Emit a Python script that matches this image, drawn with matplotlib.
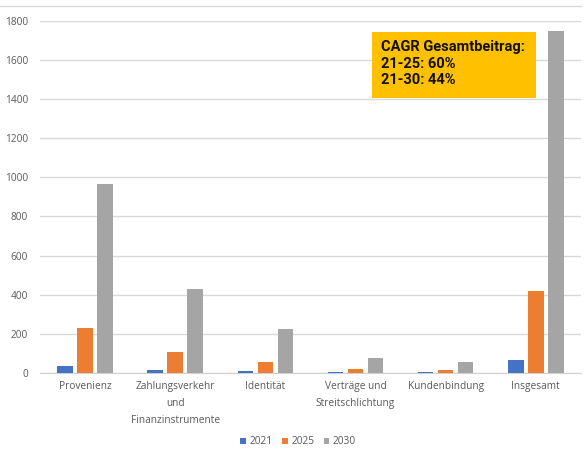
import matplotlib
matplotlib.use("Agg")
import matplotlib.pyplot as plt
import numpy as np
from matplotlib.lines import Line2D
from matplotlib.patches import Rectangle

categories = ["Provenienz", "Zahlungsverkehr\nund\nFinanzinstrumente", "Identität",
              "Verträge und\nStreitschlichtung", "Kundenbindung", "Insgesamt"]
series_names = ["2021", "2025", "2030"]
v2021 = [37, 17, 12, 6, 6, 66]
v2025 = [231, 107, 56, 20, 15, 420]
v2030 = [964, 430, 226, 76, 56, 1745]
colors = ["#4472C4", "#ED7D31", "#A5A5A5"]
yticks = [0, 200, 400, 600, 800, 1000, 1200, 1400, 1600, 1800]
box_text = "CAGR Gesamtbeitrag:\n21-25: 60%\n21-30: 44%"

W, H = 588, 457
plt.rcParams['font.family'] = ['Open Sans', 'DejaVu Sans']
fig = plt.figure(figsize=(W / 100, H / 100), dpi=100)
ax = fig.add_axes([0.068, 0.1838, 0.920, 0.7709])

x = np.arange(len(categories))
step = 0.222
width = 0.172
for i, (vals, c, name) in enumerate(zip([v2021, v2025, v2030], colors, series_names)):
    ax.bar(x + (i - 1) * step, vals, width=width, color=c, label=name, zorder=3)

ax.set_xlim(-0.5, len(categories) - 0.5)
ax.set_ylim(0, 1800)
ax.set_yticks(yticks)
ax.set_yticklabels([str(t) for t in yticks])
ax.set_xticks(x)
ax.set_xticklabels(categories, linespacing=1.75, va='top')
ax.grid(axis='y', color='#D9D9D9', linewidth=1, zorder=0)
for s in ['top', 'right', 'left']:
    ax.spines[s].set_visible(False)
ax.spines['bottom'].set_color('#D0D0D0')
ax.tick_params(axis='both', length=0, colors='#595959', labelsize=7.3)
ax.tick_params(axis='x', pad=6)
ax.tick_params(axis='y', pad=8.5)

# annotation box (figure pixel placement)
fig.add_artist(Rectangle((372 / W, 1 - 98 / H), (536 - 372) / W, (98 - 32) / H,
                         transform=fig.transFigure, facecolor='#FFC000',
                         edgecolor='none', zorder=5))
fig.text(381 / W, 1 - 40.5 / H, box_text, fontsize=10.5, fontweight='bold',
         family=['Roboto', 'DejaVu Sans'], color='#111111', va='top', ha='left',
         linespacing=1.21, zorder=6)

fig.add_artist(Line2D([0.0, 0.988], [1 - 6 / H, 1 - 6 / H], color='#D9D9D9',
                      linewidth=1, transform=fig.transFigure))

leg = fig.legend(loc='center', bbox_to_anchor=(0.507, 1 - 442 / H), ncol=3,
                 frameon=False, fontsize=7.3, handlelength=0.55, handleheight=0.55,
                 handletextpad=0.35, columnspacing=0.95)
for t in leg.get_texts():
    t.set_color('#595959')

fig.savefig("out.png", dpi=100)
